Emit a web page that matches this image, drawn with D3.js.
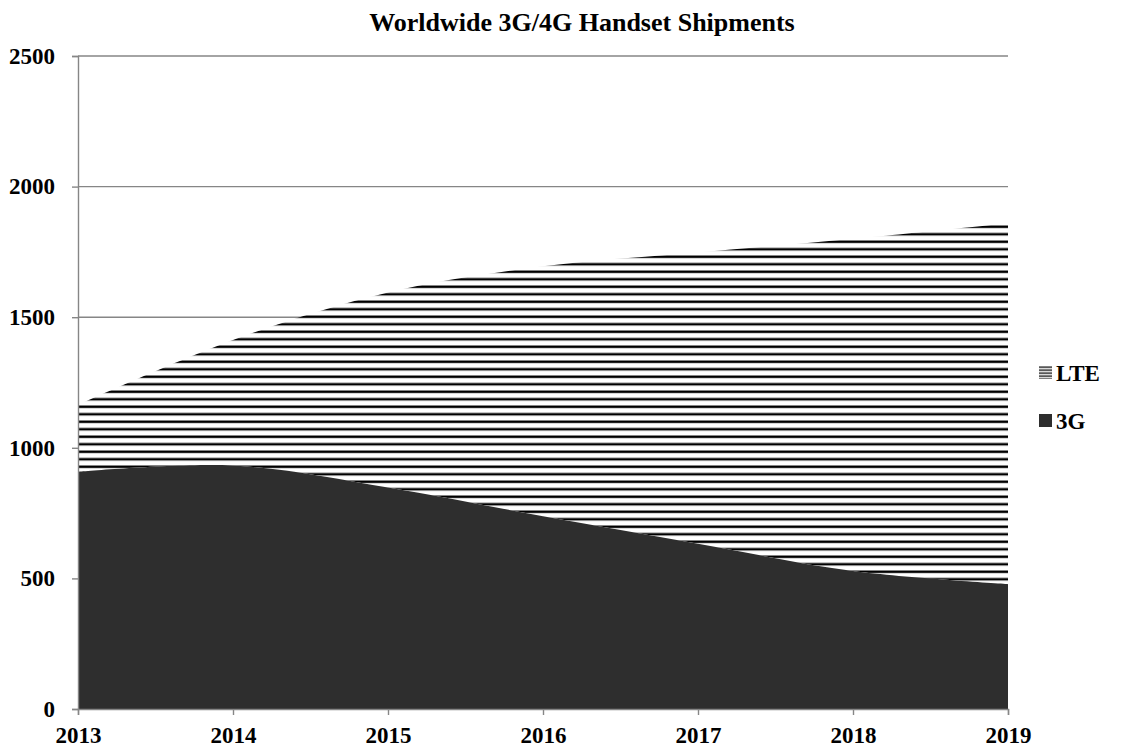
<!DOCTYPE html>
<html><head><meta charset="utf-8">
<script src="https://cdnjs.cloudflare.com/ajax/libs/d3/7.8.5/d3.min.js"></script>
<style>body{margin:0;background:#fff;}svg{display:block;}</style>
</head><body>
<script>
const years = [2013, 2014, 2015, 2016, 2017, 2018, 2019];
const series3G = [908, 932, 848, 738, 633, 528, 478];
const seriesLTE = [257, 481, 747, 957, 1115, 1272, 1382];
const yTicks = [0, 500, 1000, 1500, 2000, 2500];
const title = "Worldwide 3G/4G Handset Shipments";
const legendNames = ["LTE", "3G"];

const W = 1144, H = 750;
const m = {left: 78, right: 136, top: 56, bottom: 41};
const font = "'Liberation Serif', 'Times New Roman', serif";
const gridColor = "#868686";

const svg = d3.select("body").append("svg").attr("width", W).attr("height", H);
const defs = svg.append("defs");
const pat = defs.append("pattern").attr("id", "hatch").attr("patternUnits", "userSpaceOnUse")
  .attr("x", 0).attr("y", 0).attr("width", 10).attr("height", 7.5);
pat.append("rect").attr("width", 10).attr("height", 7.5).attr("fill", "#fff");
pat.append("rect").attr("y", 0.5).attr("width", 10).attr("height", 2.5).attr("fill", "#000");

const pat2 = defs.append("pattern").attr("id", "hatchSmall").attr("patternUnits", "userSpaceOnUse")
  .attr("x", 0).attr("y", 0.5).attr("width", 10).attr("height", 3);
pat2.append("rect").attr("width", 10).attr("height", 3).attr("fill", "#fff");
pat2.append("rect").attr("y", 0).attr("width", 10).attr("height", 1.3).attr("fill", "#000");

const x = d3.scaleLinear().domain([2013, 2019]).range([m.left, W - m.right]);
const y = d3.scaleLinear().domain([0, 2500]).range([H - m.bottom, m.top]);

const data = years.map((yr, i) => ({year: yr, g3: series3G[i], lte: seriesLTE[i]}));
const stack = d3.stack().keys(["g3", "lte"])(data);

// gridlines
svg.append("g").selectAll("line").data(yTicks.filter(d => d > 0)).join("line")
  .attr("x1", m.left).attr("x2", W - m.right)
  .attr("y1", d => y(d)).attr("y2", d => y(d))
  .attr("stroke", gridColor).attr("stroke-width", 1.4);

const area = d3.area().x(d => x(d.data.year)).y0(d => y(d[0])).y1(d => y(d[1])).curve(d3.curveCardinal.tension(0));
svg.append("path").datum(stack[1]).attr("d", area).attr("fill", "url(#hatch)");
svg.append("path").datum(stack[0]).attr("d", area).attr("fill", "#2e2e2e");

// axes
const yAxis = svg.append("g").attr("transform", `translate(${m.left},0)`)
  .call(d3.axisLeft(y).tickValues(yTicks).tickSize(6).tickPadding(17).tickFormat(d3.format("d")));
const xAxis = svg.append("g").attr("transform", `translate(0,${H - m.bottom})`)
  .call(d3.axisBottom(x).tickValues(years).tickSize(6).tickPadding(12).tickFormat(d3.format("d")));
[yAxis, xAxis].forEach(a => {
  a.select(".domain").attr("stroke", gridColor).attr("stroke-width", 1.4);
  a.selectAll(".tick line").attr("stroke", gridColor).attr("stroke-width", 1.4);
  a.selectAll("text").attr("font-family", font).attr("font-weight", "bold")
    .attr("font-size", 23).attr("fill", "#000");
});

svg.append("text").attr("x", 582).attr("y", 31).attr("text-anchor", "middle")
  .attr("font-family", font).attr("font-weight", "bold").attr("font-size", 26).text(title);

// legend
const lg = svg.append("g");
lg.append("rect").attr("x", 1039).attr("y", 366).attr("width", 13).attr("height", 13).attr("fill", "url(#hatchSmall)");
lg.append("rect").attr("x", 1039).attr("y", 414).attr("width", 13).attr("height", 13).attr("fill", "#2e2e2e");
lg.selectAll("text").data(legendNames).join("text")
  .attr("x", 1056).attr("y", (d, i) => 381 + i * 48)
  .attr("font-family", font).attr("font-weight", "bold").attr("font-size", 23).text(d => d);
</script>
</body></html>
